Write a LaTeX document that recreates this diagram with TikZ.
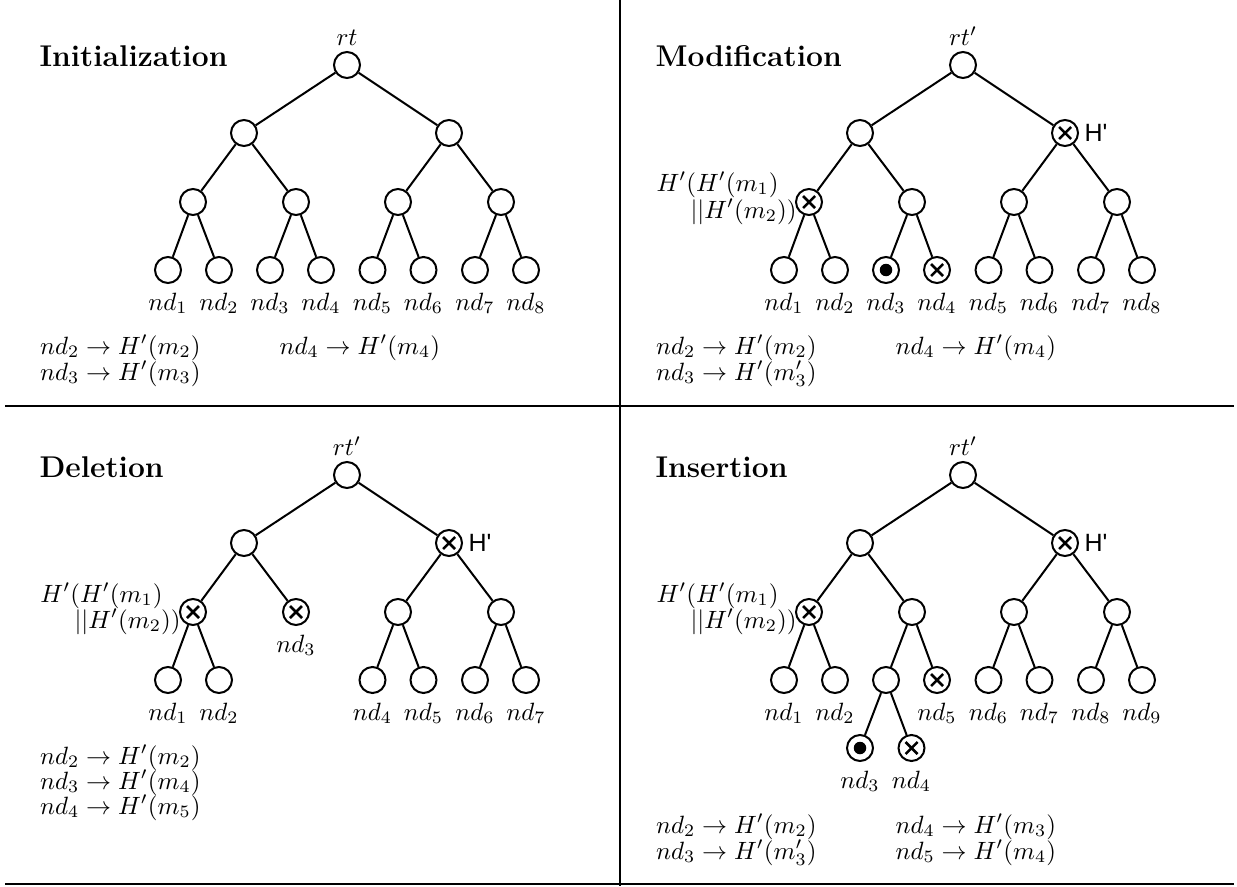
\documentclass[tikz,border=0pt]{standalone}
\usepackage{fontspec}
\newfontfamily\hfont[Ligatures=TeXOff]{Liberation Sans}
\begin{document}
\begin{tikzpicture}[x=0.4pt,y=-0.4pt,
  tn/.style={circle,draw,line width=0.8pt,minimum size=10.4pt,inner sep=0pt},
  xn/.style={tn,path picture={\draw[line width=1pt]
      ([shift={(-2.4pt,-2.4pt)}]path picture bounding box.center) -- ([shift={(2.4pt,2.4pt)}]path picture bounding box.center)
      ([shift={(-2.4pt,2.4pt)}]path picture bounding box.center) -- ([shift={(2.4pt,-2.4pt)}]path picture bounding box.center);}},
  dn/.style={tn,path picture={\fill (path picture bounding box.center) circle (2.5pt);}},
  ed/.style={line width=0.8pt},
  sep/.style={line width=0.8pt},
  ttl/.style={anchor=base west,inner sep=0pt,font=\large\bfseries},
  txt/.style={anchor=base west,inner sep=0pt},
  hl/.style={label={[inner sep=2pt]right:{\hfont H'}}},
]
\useasboundingbox (0,0) rectangle (1237,886);
% separators
\draw[sep] (620,0) coordinate (v1) -- (620,886) coordinate (v2);
\draw[sep] (5,406) coordinate (h1) -- (1234,406) coordinate (h2);
\draw[sep] (5,884) coordinate (h3) -- (1234,884) coordinate (h4);

% ---------- Initialization ----------
\begin{scope}
\node[ttl] (at) at (39,67) {Initialization};
\node[tn,label={[inner sep=2pt]above:$rt$}] (a0) at (347,65) {};
\node[tn] (a1) at (244,133) {};
\node[tn] (a2) at (449,133) {};
\node[tn] (a11) at (193,202) {};
\node[tn] (a12) at (296,202) {};
\node[tn] (a21) at (398,202) {};
\node[tn] (a22) at (501,202) {};
\node[tn,label=below:$nd_1$] (a111) at (168,270) {};
\node[tn,label=below:$nd_2$] (a112) at (219,270) {};
\node[tn,label=below:$nd_3$] (a121) at (270,270) {};
\node[tn,label=below:$nd_4$] (a122) at (321,270) {};
\node[tn,label=below:$nd_5$] (a211) at (372.5,270) {};
\node[tn,label=below:$nd_6$] (a212) at (423.5,270) {};
\node[tn,label=below:$nd_7$] (a221) at (475,270) {};
\node[tn,label=below:$nd_8$] (a222) at (526,270) {};
\draw[ed] (a0)--(a1) (a0)--(a2) (a1)--(a11) (a1)--(a12) (a2)--(a21) (a2)--(a22)
  (a11)--(a111) (a11)--(a112) (a12)--(a121) (a12)--(a122)
  (a21)--(a211) (a21)--(a212) (a22)--(a221) (a22)--(a222);
\node[txt] (at1) at (39.5,354) {$nd_2 \rightarrow H'(m_2)$};
\node[txt] (at2) at (39.5,380) {$nd_3 \rightarrow H'(m_3)$};
\node[txt] (at3) at (279,354) {$nd_4 \rightarrow H'(m_4)$};
\end{scope}

% ---------- Modification ----------
\begin{scope}[shift={(616,0)}]
\node[ttl] (bt) at (39,67) {Modification};
\node[tn,label={[inner sep=2pt]above:$rt'$}] (b0) at (347,65) {};
\node[tn] (b1) at (244,133) {};
\node[xn,hl] (b2) at (449,133) {};
\node[xn] (b11) at (193,202) {};
\node[tn] (b12) at (296,202) {};
\node[tn] (b21) at (398,202) {};
\node[tn] (b22) at (501,202) {};
\node[tn,label=below:$nd_1$] (b111) at (168,270) {};
\node[tn,label=below:$nd_2$] (b112) at (219,270) {};
\node[dn,label=below:$nd_3$] (b121) at (270,270) {};
\node[xn,label=below:$nd_4$] (b122) at (321,270) {};
\node[tn,label=below:$nd_5$] (b211) at (372.5,270) {};
\node[tn,label=below:$nd_6$] (b212) at (423.5,270) {};
\node[tn,label=below:$nd_7$] (b221) at (475,270) {};
\node[tn,label=below:$nd_8$] (b222) at (526,270) {};
\draw[ed] (b0)--(b1) (b0)--(b2) (b1)--(b11) (b1)--(b12) (b2)--(b21) (b2)--(b22)
  (b11)--(b111) (b11)--(b112) (b12)--(b121) (b12)--(b122)
  (b21)--(b211) (b21)--(b212) (b22)--(b221) (b22)--(b222);
\node[txt] (bl1) at (40,191) {$H'(H'(m_1)$};
\node[txt] (bl2) at (74,218) {$||H'(m_2))$};
\node[txt] (bt1) at (39.5,354) {$nd_2 \rightarrow H'(m_2)$};
\node[txt] (bt2) at (39.5,380) {$nd_3 \rightarrow H'(m_3')$};
\node[txt] (bt3) at (279,354) {$nd_4 \rightarrow H'(m_4)$};
\end{scope}

% ---------- Deletion ----------
\begin{scope}[shift={(0,410)}]
\node[ttl] (ct) at (39,67) {Deletion};
\node[tn,label={[inner sep=2pt]above:$rt'$}] (c0) at (347,65) {};
\node[tn] (c1) at (244,133) {};
\node[xn,hl] (c2) at (449,133) {};
\node[xn] (c11) at (193,202) {};
\node[xn,label=below:$nd_3$] (c12) at (296,202) {};
\node[tn] (c21) at (398,202) {};
\node[tn] (c22) at (501,202) {};
\node[tn,label=below:$nd_1$] (c111) at (168,270) {};
\node[tn,label=below:$nd_2$] (c112) at (219,270) {};
\node[tn,label=below:$nd_4$] (c211) at (372.5,270) {};
\node[tn,label=below:$nd_5$] (c212) at (423.5,270) {};
\node[tn,label=below:$nd_6$] (c221) at (475,270) {};
\node[tn,label=below:$nd_7$] (c222) at (526,270) {};
\draw[ed] (c0)--(c1) (c0)--(c2) (c1)--(c11) (c1)--(c12) (c2)--(c21) (c2)--(c22)
  (c11)--(c111) (c11)--(c112)
  (c21)--(c211) (c21)--(c212) (c22)--(c221) (c22)--(c222);
\node[txt] (cl1) at (40,192) {$H'(H'(m_1)$};
\node[txt] (cl2) at (74,218) {$||H'(m_2))$};
\node[txt] (ct1) at (39.5,354) {$nd_2 \rightarrow H'(m_2)$};
\node[txt] (ct2) at (39.5,379) {$nd_3 \rightarrow H'(m_4)$};
\node[txt] (ct3) at (39.5,404) {$nd_4 \rightarrow H'(m_5)$};
\end{scope}

% ---------- Insertion ----------
\begin{scope}[shift={(616,410)}]
\node[ttl] (dt) at (39,67) {Insertion};
\node[tn,label={[inner sep=2pt]above:$rt'$}] (d0) at (347,65) {};
\node[tn] (d1) at (244,133) {};
\node[xn,hl] (d2) at (449,133) {};
\node[xn] (d11) at (193,202) {};
\node[tn] (d12) at (296,202) {};
\node[tn] (d21) at (398,202) {};
\node[tn] (d22) at (501,202) {};
\node[tn,label=below:$nd_1$] (d111) at (168,270) {};
\node[tn,label=below:$nd_2$] (d112) at (219,270) {};
\node[tn] (d121) at (270,270) {};
\node[xn,label=below:$nd_5$] (d122) at (321,270) {};
\node[tn,label=below:$nd_6$] (d211) at (372.5,270) {};
\node[tn,label=below:$nd_7$] (d212) at (423.5,270) {};
\node[tn,label=below:$nd_8$] (d221) at (475,270) {};
\node[tn,label=below:$nd_9$] (d222) at (526,270) {};
\node[dn,label=below:$nd_3$] (d1211) at (244,338) {};
\node[xn,label=below:$nd_4$] (d1212) at (295.5,338) {};
\draw[ed] (d0)--(d1) (d0)--(d2) (d1)--(d11) (d1)--(d12) (d2)--(d21) (d2)--(d22)
  (d11)--(d111) (d11)--(d112) (d12)--(d121) (d12)--(d122)
  (d21)--(d211) (d21)--(d212) (d22)--(d221) (d22)--(d222)
  (d121)--(d1211) (d121)--(d1212);
\node[txt] (dl1) at (40,192) {$H'(H'(m_1)$};
\node[txt] (dl2) at (74,218) {$||H'(m_2))$};
\node[txt] (dt1) at (39.5,423) {$nd_2 \rightarrow H'(m_2)$};
\node[txt] (dt2) at (39.5,449) {$nd_3 \rightarrow H'(m_3')$};
\node[txt] (dt3) at (279,423) {$nd_4 \rightarrow H'(m_3)$};
\node[txt] (dt4) at (279,449) {$nd_5 \rightarrow H'(m_4)$};
\end{scope}
\end{tikzpicture}
\end{document}
